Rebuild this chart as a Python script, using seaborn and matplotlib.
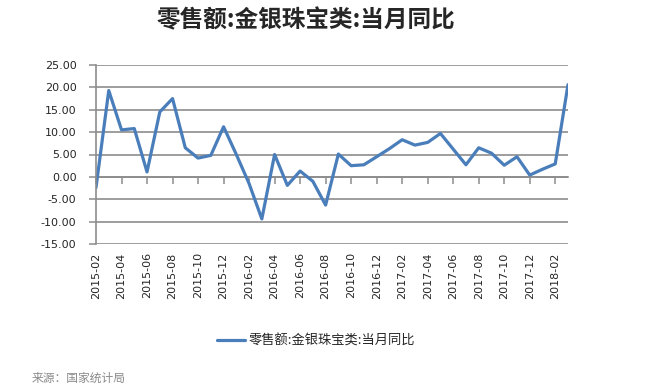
import numpy as np
import pandas as pd
import matplotlib
matplotlib.use("Agg")
import matplotlib.pyplot as plt
import seaborn as sns

# 月份 (2015-02 .. 2018-03), 当月同比 %
months = ["2015-02", "2015-03", "2015-04", "2015-05", "2015-06", "2015-07", "2015-08",
          "2015-09", "2015-10", "2015-11", "2015-12", "2016-01", "2016-02", "2016-03",
          "2016-04", "2016-05", "2016-06", "2016-07", "2016-08", "2016-09", "2016-10",
          "2016-11", "2016-12", "2017-01", "2017-02", "2017-03", "2017-04", "2017-05",
          "2017-06", "2017-07", "2017-08", "2017-09", "2017-10", "2017-11", "2017-12",
          "2018-01", "2018-02", "2018-03"]
values = [-2.4, 19.3, 10.5, 10.8, 1.1, 14.5, 17.5, 6.5, 4.2, 4.8, 11.2, 5.0, -1.5, -9.4,
          5.0, -1.9, 1.3, -1.0, -6.3, 5.1, 2.5, 2.7, 4.5, 6.3, 8.3, 7.1, 7.7, 9.7,
          6.2, 2.7, 6.5, 5.3, 2.6, 4.5, 0.4, 1.7, 2.9, 20.6]
series_name = "零售额:金银珠宝类:当月同比"
title = "零售额:金银珠宝类:当月同比"
source = "来源：国家统计局"

CJK = ["Noto Sans CJK SC", "DejaVu Sans"]
LINE = "#4a7ebb"
GRID = "#8c8c8c"

sns.set_style("white")
plt.rcParams["font.family"] = ["DejaVu Sans", "Noto Sans CJK SC"]

df = pd.DataFrame({"idx": np.arange(len(months)), "value": values})

fig = plt.figure(figsize=(6.45, 3.92), dpi=100)
ax = fig.add_axes([96 / 645, 1 - 244 / 392, (568 - 96) / 645, (244 - 65) / 392])

sns.lineplot(data=df, x="idx", y="value", color=LINE, lw=2.3, ax=ax,
             label=series_name, legend=False)

ax.set_xlim(0, len(months) - 1)
ax.set_ylim(-15, 25)
ax.set_yticks(np.arange(-15, 26, 5))
ax.set_yticklabels([f"{v:.2f}" for v in np.arange(-15, 26, 5)], fontsize=8)
ax.yaxis.grid(True, color=GRID, lw=1.2)
ax.set_axisbelow(True)
ax.tick_params(axis="y", direction="out", length=5, color=GRID, width=1.1, pad=9, left=True)

even = np.arange(0, len(months), 2)
ax.set_xticks(even)
ax.set_xticklabels([months[i] for i in even], rotation=90, fontsize=8)
ax.tick_params(axis="x", length=0, pad=6)
ax.set_xlabel("")
ax.set_ylabel("")

for s in ["top", "right", "bottom"]:
    ax.spines[s].set_visible(False)
ax.spines["left"].set_color(GRID)
ax.spines["left"].set_linewidth(1.2)

# category axis crossing at zero, with tick marks
sec = ax.secondary_xaxis((0 - (-15)) / 40)
sec.set_xticks(even)
sec.tick_params(axis="x", direction="out", length=5, color=GRID, width=1.1, labelbottom=False)
sec.spines["bottom"].set_color(GRID)
sec.spines["bottom"].set_linewidth(1.2)

fig.text(0.475, 1 - 20 / 392, title, ha="center", va="center", fontsize=17,
         fontweight="bold", family=CJK)

handles, labels = ax.get_legend_handles_labels()
fig.legend(handles, labels, loc="center", bbox_to_anchor=(0.49, 1 - 341 / 392),
           frameon=False, prop={"family": CJK, "size": 9.5},
           handlelength=2.1, handletextpad=0.3)

fig.text(32 / 645, 1 - 378 / 392, source, ha="left", va="center", fontsize=8.5,
         color="#8a8a8a", family=CJK)

fig.savefig("out.png", dpi=100)
